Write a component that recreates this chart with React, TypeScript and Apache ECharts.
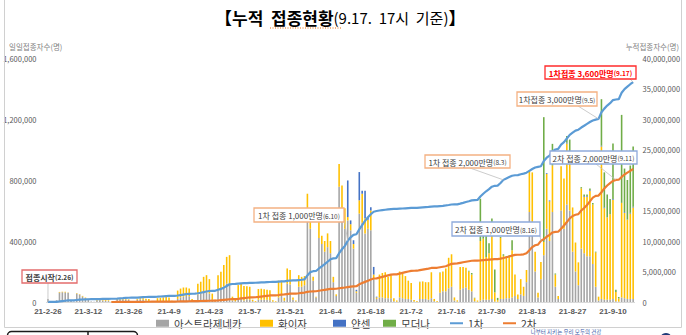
import React, { useEffect, useRef } from "react";
import * as echarts from "echarts";

const FONT = '"Noto Sans CJK KR", "Noto Sans", sans-serif';
const LATIN = '"Liberation Sans", Arial, sans-serif';

// categories: one per day, 2021-02-26 .. 2021-09-17
const firstDay = { y: 2021, m: 2, d: 26 };
const dayCount = 204;
const labelInterval = 13; // a label every 14 days

function buildDates(): string[] {
  const out: string[] = [];
  const dt = new Date(Date.UTC(firstDay.y, firstDay.m - 1, firstDay.d));
  for (let i = 0; i < dayCount; i++) {
    out.push(`21-${dt.getUTCMonth() + 1}-${dt.getUTCDate()}`);
    dt.setUTCDate(dt.getUTCDate() + 1);
  }
  return out;
}
const dates = buildDates();

const seriesNames = ["아스트라제네카", "화이자", "얀센", "모더나", "1차", "2차"];

// daily doses, thousand people (one row per week, Fri..Thu)
const astraK = [
  19, 2, 2, 12, 62, 64, 63,
  60, 8, 3, 55, 48, 36, 25,
  18, 3, 1, 10, 12, 10, 8,
  6, 0, 0, 14, 16, 17, 16,
  14, 2, 1, 15, 17, 14, 10,
  6, 0, 0, 3, 2, 2, 2,
  2, 0, 0, 20, 30, 35, 40,
  38, 8, 3, 50, 55, 60, 62,
  55, 15, 5, 75, 85, 100, 120,
  115, 10, 5, 20, 22, 10, 18,
  15, 5, 2, 15, 15, 14, 14,
  12, 3, 1, 30, 40, 8, 120,
  115, 15, 5, 100, 100, 110, 590,
  480, 140, 30, 420, 380, 330, 360,
  320, 130, 40, 755, 600, 480, 535,
  470, 350, 60, 580, 520, 450, 480,
  470, 150, 20, 30, 30, 25, 25,
  25, 5, 2, 30, 25, 20, 20,
  15, 3, 1, 20, 20, 20, 15,
  25, 5, 2, 60, 70, 70, 90,
  100, 10, 3, 80, 90, 95, 80,
  70, 5, 2, 10, 15, 15, 15,
  20, 3, 2, 20, 20, 25, 25,
  30, 40, 20, 50, 40, 130, 590,
  500, 200, 30, 150, 307, 480, 400,
  590, 100, 20, 600, 480, 640, 600,
  330, 200, 110, 350, 320, 300, 300,
  250, 100, 10, 20, 15, 15, 15,
  20, 5, 3, 30, 25, 20, 20,
  20,
];

const pfizerK = [
  0, 1, 1, 0, 4, 4, 4,
  3, 1, 0, 3, 3, 4, 4,
  3, 0, 0, 3, 4, 3, 6,
  5, 2, 1, 5, 5, 4, 4,
  4, 1, 0, 6, 8, 10, 12,
  14, 4, 2, 22, 26, 28, 30,
  28, 8, 3, 55, 58, 60, 55,
  50, 12, 5, 70, 78, 105, 114,
  95, 40, 10, 101, 113, 142, 176,
  192, 25, 8, 91, 98, 95, 85,
  85, 10, 5, 70, 72, 70, 66,
  65, 8, 4, 110, 100, 20, 100,
  95, 15, 5, 76, 65, 60, 120,
  55, 25, 5, 110, 55, 70, 90,
  80, 35, 10, 150, 164, 134, 22,
  40, 30, 10, 87, 190, 100, 60,
  130, 30, 10, 150, 160, 170, 140,
  150, 20, 8, 170, 160, 150, 120,
  110, 10, 5, 110, 115, 110, 115,
  170, 15, 5, 130, 130, 150, 200,
  213, 20, 8, 150, 140, 130, 120,
  110, 20, 8, 390, 400, 280, 305,
  505, 60, 10, 400, 283, 270, 275,
  310, 140, 30, 100, 60, 80, 274,
  350, 130, 30, 113, 87, 360, 260,
  305, 80, 20, 290, 330, 400, 350,
  290, 190, 150, 395, 370, 390, 430,
  390, 225, 25, 1000, 600, 540, 560,
  650, 60, 20, 620, 560, 520, 560,
  600,
];

const janssenK = [
  0, 0, 0, 0, 0, 0, 0,
  0, 0, 0, 0, 0, 0, 0,
  0, 0, 0, 0, 0, 0, 0,
  0, 0, 0, 0, 0, 0, 0,
  0, 0, 0, 0, 0, 0, 0,
  0, 0, 0, 0, 0, 0, 0,
  0, 0, 0, 0, 0, 0, 0,
  0, 0, 0, 0, 0, 0, 0,
  0, 0, 0, 0, 0, 0, 0,
  0, 0, 0, 0, 0, 0, 0,
  0, 0, 0, 0, 0, 0, 0,
  0, 0, 0, 0, 0, 0, 0,
  0, 0, 0, 0, 0, 0, 0,
  0, 0, 0, 0, 0, 0, 0,
  0, 0, 0, 0, 0, 0, 240,
  25, 25, 10, 185, 20, 180, 17,
  22, 50, 5, 0, 0, 0, 0,
  0, 0, 0, 0, 0, 0, 0,
  0, 0, 0, 0, 0, 0, 0,
  0, 0, 0, 0, 0, 0, 0,
  0, 0, 0, 0, 0, 0, 0,
  0, 0, 0, 0, 0, 0, 0,
  0, 0, 0, 0, 0, 0, 0,
  0, 0, 0, 0, 0, 0, 0,
  0, 0, 0, 0, 0, 5, 6,
  0, 0, 0, 0, 0, 5, 5,
  0, 0, 0, 0, 5, 5, 5,
  0, 0, 0, 5, 5, 0, 0,
  5, 0, 0, 0, 5, 0, 5,
  5,
];

const modernaK = [
  0, 0, 0, 0, 0, 0, 0,
  0, 0, 0, 0, 0, 0, 0,
  0, 0, 0, 0, 0, 0, 0,
  0, 0, 0, 0, 0, 0, 0,
  0, 0, 0, 0, 0, 0, 0,
  0, 0, 0, 0, 0, 0, 0,
  0, 0, 0, 0, 0, 0, 0,
  0, 0, 0, 0, 0, 0, 0,
  0, 0, 0, 0, 0, 0, 0,
  0, 0, 0, 0, 0, 0, 0,
  0, 0, 0, 0, 0, 0, 0,
  0, 0, 0, 0, 0, 0, 0,
  0, 0, 0, 0, 0, 0, 0,
  0, 0, 0, 0, 0, 0, 0,
  0, 0, 0, 0, 0, 0, 0,
  0, 0, 0, 0, 0, 0, 0,
  0, 0, 0, 0, 0, 0, 0,
  0, 0, 0, 0, 0, 0, 0,
  0, 0, 0, 3, 0, 0, 0,
  0, 0, 0, 3, 0, 0, 0,
  0, 0, 0, 0, 0, 0, 5,
  10, 3, 0, 277, 35, 142, 65,
  22, 150, 15, 7, 10, 5, 7,
  65, 0, 0, 0, 0, 0, 0,
  0, 0, 0, 0, 818, 0, 0,
  142, 7, 0, 0, 0, 44, 110,
  0, 0, 0, 8, 10, 10, 10,
  10, 5, 0, 305, 230, 150, 100,
  365, 15, 10, 577, 285, 260, 310,
  395,
];

// cumulative, in 만명 (10,000 people)
const firstDoseMan = [
  1.9, 2.1, 2.3, 3.5, 8.8, 14.7, 20.5,
  26.3, 27.4, 27.7, 32.9, 37.5, 41.0, 43.4,
  45.3, 45.6, 45.7, 47.0, 48.5, 50.0, 51.5,
  52.8, 52.9, 53.0, 56.0, 59.5, 63.0, 67.0,
  70.0, 70.3, 70.4, 73.0, 76.0, 79.0, 82.0,
  84.0, 84.5, 84.8, 87.5, 90.5, 93.5, 96.5,
  99.5, 100.5, 100.9, 107, 114, 121, 128,
  134, 135.5, 136, 143, 151, 161, 172,
  180, 183, 184, 200, 215, 235, 262,
  290, 295, 297, 301, 305, 308, 311,
  314, 315, 315.5, 318, 320.5, 323, 325.5,
  328, 328.5, 329, 333, 337, 338, 345,
  352, 353.5, 354, 360, 365, 371, 435,
  490, 505, 508, 550, 585, 620, 660,
  700, 715, 720, 800, 865, 920, 1005,
  1060, 1100, 1110, 1190, 1260, 1330, 1390,
  1440, 1480, 1492, 1500, 1506, 1512, 1518,
  1524, 1526, 1527, 1530, 1533, 1536, 1539,
  1542, 1543, 1544, 1548, 1552, 1556, 1560,
  1565, 1566, 1567, 1572, 1577, 1583, 1590,
  1598, 1600, 1601, 1612, 1625, 1640, 1652,
  1665, 1670, 1672, 1730, 1775, 1815, 1850,
  1890, 1905, 1908, 1950, 2002, 2025, 2048,
  2070, 2078, 2080, 2095, 2105, 2120, 2150,
  2180, 2205, 2215, 2225, 2310, 2365, 2400,
  2470, 2500, 2510, 2580, 2620, 2680, 2740,
  2775, 2810, 2825, 2860, 2890, 2920, 2950,
  2975, 2990, 3002, 3110, 3170, 3220, 3260,
  3310, 3320, 3325, 3430, 3490, 3530, 3570,
  3605,
];

const secondDoseMan: (number | null)[] = [
  null, null, null, null, null, null, null,
  null, null, null, null, null, null, null,
  null, null, null, null, null, null, null,
  null, 0.1, 0.2, 0.5, 0.8, 1.2, 1.6,
  2.0, 2.1, 2.1, 2.5, 3.0, 3.5, 4.0,
  4.5, 4.6, 4.7, 5.2, 5.8, 6.4, 7.0,
  7.5, 7.6, 7.7, 8.5, 9.5, 10.5, 11.5,
  12.5, 12.8, 13.0, 14.5, 16, 17.5, 19,
  20.5, 21, 21.2, 25, 30, 35, 40,
  45, 46, 46.5, 52, 58, 64, 70,
  76, 77, 77.5, 83, 89, 95, 101,
  107, 108, 108.5, 115, 122, 124, 130,
  136, 137, 137.5, 143, 149, 155, 165,
  172, 175, 176, 185, 193, 200, 207,
  214, 216, 217, 225, 232, 238, 245,
  252, 256, 258, 290, 310, 330, 350,
  370, 385, 388, 400, 412, 425, 437,
  449, 452, 453, 465, 477, 489, 500,
  510, 512, 513, 522, 531, 540, 548,
  558, 560, 561, 570, 578, 586, 605,
  625, 630, 632, 642, 652, 660, 668,
  676, 678, 679, 683, 688, 692, 696,
  700, 702, 703, 712, 722, 733, 745,
  760, 772, 775, 778, 782, 800, 850,
  900, 930, 940, 1003, 1030, 1070, 1100,
  1140, 1150, 1152, 1200, 1255, 1310, 1370,
  1410, 1430, 1440, 1500, 1540, 1590, 1650,
  1710, 1740, 1745, 1800, 1860, 1910, 1950,
  1985, 2002, 2005, 2050, 2090, 2120, 2150,
  2180,
];

const dailyTicks = { min: 0, max: 1600000, interval: 400000 };
const cumTicks = { min: 0, max: 40000000, interval: 5000000 };

const THOUSAND = 1000;
const MAN = 10000;
const scale = (arr: (number | null)[], unit: number) =>
  arr.map((v) => (v == null ? null : v * unit));

const colors = {
  az: "#A5A5A5",
  pf: "#FFC000",
  js: "#4472C4",
  md: "#70AD47",
  first: "#5B9BD5",
  second: "#ED7D31",
};

type Note = {
  text: string;
  box: [number, number, number, number];
  stroke: string;
  from: [number, number];
  day: number;
  line: "first" | "second";
  color?: string;
  bold?: boolean;
};

const notes: Note[] = [
  { text: "{m|접종시작}{p|(2.26)}", box: [22, 270, 55, 13], stroke: "#E36C6C", from: [48, 283], day: 0, line: "first", bold: true },
  { text: "{m|1차 접종 1,000만명}{p|(6.10)}", box: [254, 208, 90, 14], stroke: "#F4B183", from: [344, 219], day: 104, line: "first" },
  { text: "{m|1차 접종 2,000만명}{p|(8.3)}", box: [425, 155, 85, 13], stroke: "#F4B183", from: [470, 168], day: 158, line: "first" },
  { text: "{m|2차 접종 1,000만명}{p|(8.16)}", box: [452, 222, 88, 14], stroke: "#8FAADC", from: [540, 236], day: 171, line: "second" },
  { text: "{m|1차접종 3,000만명}{p|(9.5)}", box: [517, 92, 80, 14], stroke: "#F4B183", from: [578, 106], day: 191, line: "first" },
  { text: "{m|2차 접종 2,000만명}{p|(9.11)}", box: [550, 151, 87, 13], stroke: "#8FAADC", from: [596, 164], day: 197, line: "second" },
  { text: "{m|1차접종 3,600만명}{p|(9.17)}", box: [545, 66, 91, 13], stroke: "#FF2B2B", from: [630, 79], day: 203, line: "first", color: "#FF0000", bold: true },
];

export default function App() {
  const ref = useRef<HTMLDivElement>(null);

  useEffect(() => {
    const el = ref.current;
    if (!el) return;
    const chart = echarts.init(el, null, { renderer: "svg" });

    const firstVals = scale(firstDoseMan, MAN);
    const secondVals = scale(secondDoseMan, MAN);

    const legendBase = {
      top: 318,
      padding: 0,
      itemWidth: 13,
      itemHeight: 7,
      itemGap: 0,
      icon: "rect",
      textStyle: { fontSize: 10.5, lineHeight: 10, color: "#404040", fontFamily: FONT },
    };

    const barBase = { type: "bar", stack: "daily", barWidth: "55%", yAxisIndex: 0 };

    chart.setOption({
      animation: false,
      backgroundColor: "#ffffff",
      textStyle: { fontFamily: FONT },
      grid: { left: 46.5, right: 51.4, top: 58, bottom: 33, containLabel: false },
      legend: [
        { ...legendBase, left: 156, data: [seriesNames[0]] },
        { ...legendBase, left: 260, data: [seriesNames[1]] },
        { ...legendBase, left: 333, data: [seriesNames[2]] },
        { ...legendBase, left: 383, data: [seriesNames[3]] },
        { ...legendBase, left: 450, itemHeight: 2, data: [seriesNames[4]] },
        { ...legendBase, left: 503, itemHeight: 2, data: [seriesNames[5]] },
      ],
      xAxis: {
        type: "category",
        data: dates,
        boundaryGap: true,
        axisTick: { show: false },
        axisLine: { show: true, lineStyle: { color: "#D9D9D9", width: 1 } },
        axisLabel: {
          interval: labelInterval,
          fontSize: 8,
          lineHeight: 9,
          fontWeight: "bold",
          color: "#595959",
          margin: 4.5,
          fontFamily: LATIN,
        },
        splitLine: { show: false },
      },
      yAxis: [
        {
          type: "value",
          ...dailyTicks,
          position: "left",
          splitLine: { show: false },
          axisLine: { show: false },
          axisTick: { show: false },
          axisLabel: {
            fontSize: 7.5,
            color: "#595959",
            margin: 10,
            fontFamily: FONT,
            formatter: (v: number) => v.toLocaleString("en-US"),
          },
        },
        {
          type: "value",
          ...cumTicks,
          position: "right",
          splitLine: { show: false },
          axisLine: { show: false },
          axisTick: { show: false },
          axisLabel: {
            fontSize: 7.5,
            color: "#595959",
            margin: 8,
            fontFamily: FONT,
            formatter: (v: number) => v.toLocaleString("en-US"),
          },
        },
      ],
      series: [
        { ...barBase, name: seriesNames[0], data: scale(astraK, THOUSAND), itemStyle: { color: colors.az } },
        { ...barBase, name: seriesNames[1], data: scale(pfizerK, THOUSAND), itemStyle: { color: colors.pf } },
        { ...barBase, name: seriesNames[2], data: scale(janssenK, THOUSAND), itemStyle: { color: colors.js } },
        { ...barBase, name: seriesNames[3], data: scale(modernaK, THOUSAND), itemStyle: { color: colors.md } },
        {
          type: "line",
          name: seriesNames[4],
          yAxisIndex: 1,
          data: firstVals,
          showSymbol: false,
          symbol: "none",
          color: colors.first,
          lineStyle: { color: colors.first, width: 2.2 },
          z: 5,
        },
        {
          type: "line",
          name: seriesNames[5],
          yAxisIndex: 1,
          data: secondVals,
          showSymbol: false,
          symbol: "none",
          color: colors.second,
          lineStyle: { color: colors.second, width: 2.2 },
          z: 5,
        },
      ],
    });

    const graphics: any[] = [];

    // frame lines
    const frame = "#D0D0D0";
    graphics.push(
      { type: "line", z: 50, silent: true, shape: { x1: 4.5, y1: 0, x2: 4.5, y2: 327.5 }, style: { stroke: frame, lineWidth: 1 } },
      { type: "line", z: 50, silent: true, shape: { x1: 681.5, y1: 0, x2: 681.5, y2: 327.5 }, style: { stroke: frame, lineWidth: 1 } },
      { type: "line", z: 50, silent: true, shape: { x1: 4.5, y1: 327.5, x2: 681.5, y2: 327.5 }, style: { stroke: frame, lineWidth: 1 } }
    );

    // title
    graphics.push({
      type: "text",
      z: 60,
      x: 215,
      y: 17,
      style: {
        text: "{a|【누적  접종현황}{b|(9.17.  17시  기준)}{a|】}",
        verticalAlign: "middle",
        align: "left",
        rich: {
          a: { fontSize: 17, fontWeight: "bold", fill: "#000000", fontFamily: FONT },
          b: { fontSize: 15, fontWeight: "normal", fill: "#000000", fontFamily: FONT },
        },
      },
    });
    graphics.push({
      type: "line",
      z: 60,
      silent: true,
      shape: { x1: 270, y1: 28, x2: 342, y2: 28 },
      style: { stroke: "#E46C0A", lineWidth: 1, lineDash: [1, 1.5] },
    });

    // axis titles
    graphics.push(
      {
        type: "text",
        z: 60,
        x: 9,
        y: 46,
        style: { text: "일일접종자수(명)", fontSize: 7.5, fill: "#7F7F7F", fontFamily: FONT, verticalAlign: "middle", align: "left" },
      },
      {
        type: "text",
        z: 60,
        x: 679,
        y: 46,
        style: { text: "누적접종자수(명)", fontSize: 7.5, fill: "#7F7F7F", fontFamily: FONT, verticalAlign: "middle", align: "right" },
      }
    );

    // annotations with leader lines anchored on the cumulative lines
    notes.forEach((n) => {
      const v = n.line === "first" ? firstVals[n.day] : secondVals[n.day];
      const p = chart.convertToPixel({ xAxisIndex: 0, yAxisIndex: 1 }, [n.day, v as number]) as number[];
      graphics.push({
        type: "line",
        z: 90,
        silent: true,
        shape: { x1: n.from[0], y1: n.from[1], x2: p[0], y2: p[1] },
        style: { stroke: "#BFBFBF", lineWidth: 0.8 },
      });
      const [bx, by, bw, bh] = n.box;
      const col = n.color || "#404040";
      graphics.push({
        type: "rect",
        z: 95,
        silent: true,
        shape: { x: bx, y: by, width: bw, height: bh },
        style: { fill: "#ffffff", stroke: n.stroke, lineWidth: 1.3 },
      });
      graphics.push({
        type: "text",
        z: 96,
        silent: true,
        x: bx + bw / 2,
        y: by + bh / 2 + 0.5,
        style: {
          text: n.text,
          align: "center",
          verticalAlign: "middle",
          rich: {
            m: { fontSize: 8, fontWeight: n.bold ? "bold" : "normal", fill: col, fontFamily: FONT },
            p: { fontSize: 6.5, fontWeight: n.bold ? "bold" : "normal", fill: col, fontFamily: FONT },
          },
        },
      });
    });

    // cut-off pieces at the bottom edge of the original image
    graphics.push(
      { type: "rect", z: 40, silent: true, shape: { x: 7.5, y: 331.5, width: 130, height: 16, r: 4 }, style: { fill: "none", stroke: "#1A1A1A", lineWidth: 1.5 } },
      { type: "line", z: 40, silent: true, shape: { x1: 88, y1: 331.5, x2: 88, y2: 336 }, style: { stroke: "#1A1A1A", lineWidth: 1.5 } },
      { type: "text", z: 40, x: 566, y: 332, style: { text: "나부터 지키는 우리 모두의 건강", fontSize: 5.5, fill: "#3A5BA9", fontFamily: FONT, verticalAlign: "middle", align: "center" } },
      { type: "circle", z: 40, silent: true, shape: { cx: 666, cy: 339, r: 6 }, style: { fill: "#1F3A78" } }
    );

    chart.setOption({ graphic: graphics });

    return () => {
      chart.dispose();
    };
  }, []);

  return (
    <div
      ref={ref}
      style={{ position: "fixed", left: 0, top: 0, width: 686, height: 335, background: "#ffffff" }}
    />
  );
}
